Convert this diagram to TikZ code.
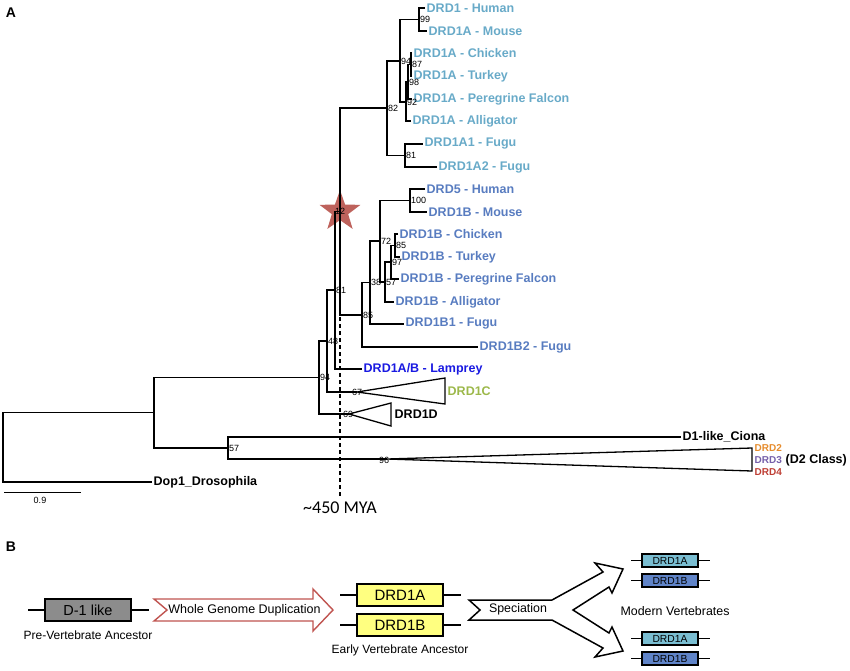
\documentclass[tikz,border=0pt]{standalone}
\usepackage{fontspec}
\setmainfont{Liberation Sans}
\newfontfamily\myafont{Carlito}
\usetikzlibrary{shapes.geometric}

\definecolor{dOneA}{RGB}{104,170,200}
\definecolor{dOneB}{RGB}{88,124,192}
\definecolor{lampblue}{RGB}{25,25,225}
\definecolor{dOneC}{RGB}{156,184,74}
\definecolor{dTwo}{RGB}{230,140,45}
\definecolor{dThree}{RGB}{118,96,170}
\definecolor{dFour}{RGB}{190,62,52}
\definecolor{starred}{RGB}{190,98,92}
\definecolor{wgdred}{RGB}{192,84,80}
\definecolor{geneyellow}{RGB}{255,255,128}
\definecolor{genegray}{RGB}{140,140,140}
\definecolor{modA}{RGB}{122,190,210}
\definecolor{modB}{RGB}{96,132,200}

\tikzset{
  branch/.style={line width=1.3pt},
  leaf/.style={anchor=west, inner sep=1.5pt, font=\fontsize{12.5}{12.5}\selectfont\bfseries},
  boot/.style={anchor=west, inner sep=1pt, font=\fontsize{9}{9}\selectfont},
  panel/.style={font=\fontsize{14}{14}\selectfont\bfseries},
  genebox/.style={draw, line width=1.2pt, inner sep=0pt, minimum width=86pt, minimum height=22pt, font=\fontsize{15}{15}\selectfont},
  smallgene/.style={draw, line width=1.2pt, inner sep=0pt, minimum width=56pt, minimum height=13pt, font=\fontsize{10.3}{10.3}\selectfont},
  stub/.style={line width=1.1pt},
  caption/.style={font=\fontsize{12}{12}\selectfont},
}

\begin{document}
\begin{tikzpicture}[x=1pt,y=-1pt]
\useasboundingbox (0,0) rectangle (850,670);

% ---- panel A: tree ----
\node[panel] (pA) at (11,13) {A};

\coordinate (c12) at (340,211.5);
\node[star, star points=5, star point ratio=2.5, minimum size=43pt,
      inner sep=0pt, fill=starred] (star12) at (c12) {};

% D1A clade
\node[leaf, text=dOneA] (humA) at (425,8) {DRD1 - Human};
\node[leaf, text=dOneA] (mouA) at (427,31) {DRD1A - Mouse};
\node[leaf, text=dOneA] (chiA) at (412,53) {DRD1A - Chicken};
\node[leaf, text=dOneA] (turA) at (412,76) {DRD1A - Turkey};
\node[leaf, text=dOneA] (falA) at (412,99) {DRD1A - Peregrine Falcon};
\node[leaf, text=dOneA] (allA) at (411,121) {DRD1A - Alligator};
\node[leaf, text=dOneA] (fugA1) at (423,144) {DRD1A1 - Fugu};
\node[leaf, text=dOneA] (fugA2) at (437,167) {DRD1A2 - Fugu};

\coordinate (c99) at (419,19.5);
\coordinate (c87) at (411,64.5);
\coordinate (c98) at (408,82);
\coordinate (c92) at (406,102);
\coordinate (c94) at (400,61);
\coordinate (c81) at (405,155.5);
\coordinate (c82) at (387,108);

\draw[branch] (c99) |- (humA.west);
\draw[branch] (c99) |- (mouA.west);
\draw[branch] (c87) |- (chiA.west);
\draw[branch] (c87) |- (turA.west);
\draw[branch] (c98) |- (c87);
\draw[branch] (c98) |- (falA.west);
\draw[branch] (c92) |- (c98);
\draw[branch] (c92) |- (allA.west);
\draw[branch] (c94) |- (c99);
\draw[branch] (c94) |- (c92);
\draw[branch] (c81) |- (fugA1.west);
\draw[branch] (c81) |- (fugA2.west);
\draw[branch] (c82) |- (c94);
\draw[branch] (c82) |- (c81);

% D1B clade
\node[leaf, text=dOneB] (humB) at (425,189) {DRD5 - Human};
\node[leaf, text=dOneB] (mouB) at (427,212) {DRD1B - Mouse};
\node[leaf, text=dOneB] (chiB) at (398,234) {DRD1B - Chicken};
\node[leaf, text=dOneB] (turB) at (400,257) {DRD1B - Turkey};
\node[leaf, text=dOneB] (falB) at (399,279) {DRD1B - Peregrine Falcon};
\node[leaf, text=dOneB] (allB) at (394,302) {DRD1B - Alligator};
\node[leaf, text=dOneB] (fugB1) at (404,324) {DRD1B1 - Fugu};
\node[leaf, text=dOneB] (fugB2) at (478,347) {DRD1B2 - Fugu};

\coordinate (c100) at (410,200.5);
\coordinate (c85b) at (395,245.5);
\coordinate (c97) at (391,262);
\coordinate (c57) at (385,282);
\coordinate (c72) at (380,241);
\coordinate (c38) at (370,282.5);
\coordinate (c85) at (362,315);

\draw[branch] (c100) |- (humB.west);
\draw[branch] (c100) |- (mouB.west);
\draw[branch] (c85b) |- (chiB.west);
\draw[branch] (c85b) |- (turB.west);
\draw[branch] (c97) |- (c85b);
\draw[branch] (c97) |- (falB.west);
\draw[branch] (c57) |- (c97);
\draw[branch] (c57) |- (allB.west);
\draw[branch] (c72) |- (c100);
\draw[branch] (c72) |- (c57);
\draw[branch] (c38) |- (c72);
\draw[branch] (c38) |- (fugB1.west);
\draw[branch] (c85) |- (c38);
\draw[branch] (c85) |- (fugB2.west);

% deeper nodes
\node[leaf, text=lampblue] (lamp) at (362,369) {DRD1A/B - Lamprey};
\coordinate (c81b) at (335,290);
\coordinate (c48) at (327,341);
\coordinate (c94r) at (319,377.5);
\coordinate (t1C) at (357,392);
\coordinate (t1D) at (349,414);
\coordinate (croot2) at (154,412.5);
\coordinate (c57c) at (228,448);
\coordinate (t2) at (387,459);
\coordinate (root) at (3,447.5);
\node[leaf] (ciona) at (681,437) {D1-like\_Ciona};
\node[leaf] (dros) at (152,482) {Dop1\_Drosophila};

\draw[branch] (c12) |- (c82);
\draw[branch] (c12) |- (c85);
\draw[branch] (c81b) |- (c12);
\draw[branch] (c81b) |- (lamp.west);
\draw[branch] (c48) |- (c81b);
\draw[branch] (c48) |- (t1C);
\draw[branch] (c94r) |- (c48);
\draw[branch] (c94r) |- (t1D);
\draw[branch] (croot2) |- (c94r);
\draw[branch] (croot2) |- (c57c);
\draw[branch] (c57c) |- (ciona.west);
\draw[branch] (c57c) |- (t2);
\draw[branch] (root) |- (croot2);
\draw[branch] (root) |- (dros.west);

% collapsed clades
\draw[branch] (t1C) -- (445,378) -- (445,404) -- cycle;
\draw[branch] (t1D) -- (391,403) -- (391,426) -- cycle;
\draw[branch] (t2) -- (752,448) -- (752,471) -- cycle;
\node[leaf, text=dOneC] (d1C) at (446,391) {DRD1C};
\node[leaf] (d1D) at (393,414) {DRD1D};
\node[leaf, font=\fontsize{10}{10}\selectfont\bfseries, text=dTwo] (d2) at (753,448) {DRD2};
\node[leaf, font=\fontsize{10}{10}\selectfont\bfseries, text=dThree] (d3) at (753,460) {DRD3};
\node[leaf, font=\fontsize{10}{10}\selectfont\bfseries, text=dFour] (d4) at (753,472) {DRD4};
\node[leaf] (d2class) at (784,460) {(D2 Class)};

% bootstrap values
\node[boot] (b99) at (c99) {99};
\node[boot] (b87) at (c87) {87};
\node[boot] (b98) at (c98) {98};
\node[boot] (b92) at (c92) {92};
\node[boot] (b94) at (c94) {94};
\node[boot] (b81) at (c81) {81};
\node[boot] (b82) at (c82) {82};
\node[boot] (b100) at (c100) {100};
\node[boot] (b85b) at (c85b) {85};
\node[boot] (b97) at (c97) {97};
\node[boot] (b57) at (c57) {57};
\node[boot] (b72) at (c72) {72};
\node[boot] (b38) at (c38) {38};
\node[boot] (b85) at (c85) {85};
\node[boot, anchor=center] (b12) at (c12) {12};
\node[boot] (b81b) at (c81b) {81};
\node[boot] (b48) at (c48) {48};
\node[boot] (b94r) at (c94r) {94};
\node[boot] (b67) at (351,392) {67};
\node[boot] (b69) at (342,414) {69};
\node[boot] (b57c) at (c57c) {57};
\node[boot] (b96) at (378,460) {96};

% time marker and scale
\node[font=\fontsize{18}{18}\myafont] (mya) at (340,508) {\textasciitilde450 MYA};
\coordinate (mtop) at (340,317);
\draw[line width=1.3pt, dash pattern=on 4pt off 3pt] (mtop) -- (mya.north);
\coordinate (sb1) at (4,492);
\coordinate (sb2) at (81,492);
\draw[line width=1pt] (sb1) -- (sb2);
\node[font=\fontsize{9}{9}\selectfont] (sbl) at (40,500) {0.9};

% ---- panel B: duplication scheme ----
\node[panel] (pB) at (11,547) {B};

\node[genebox, fill=genegray, font=\fontsize{14.5}{14.5}\selectfont] (dlike) at (88,610) {D-1 like};
\draw[stub] (dlike.west) -- ([xshift=-16]dlike.west);
\draw[stub] (dlike.east) -- ([xshift=17]dlike.east);
\node[caption] (preV) at (88,635) {Pre-Vertebrate Ancestor};

\draw[wgdred, line width=1.4pt, fill=white] (154,599) -- (313,599) -- (313,589) -- (333,610)
  -- (313,631) -- (313,621) -- (154,621) -- (167,610) -- cycle;
\node[font=\fontsize{12.5}{12.5}\selectfont] (wgd) at (244.5,610) {Whole Genome Duplication};

\node[genebox, fill=geneyellow] (eA) at (400,595) {DRD1A};
\node[genebox, fill=geneyellow] (eB) at (400,625) {DRD1B};
\draw[stub] (eA.west) -- ([xshift=-16]eA.west);
\draw[stub] (eA.east) -- ([xshift=17]eA.east);
\draw[stub] (eB.west) -- ([xshift=-16]eB.west);
\draw[stub] (eB.east) -- ([xshift=17]eB.east);
\node[caption] (earlyV) at (400,650) {Early Vertebrate Ancestor};

\draw[line width=1.5pt, fill=white] (469,600) -- (552,600) -- (603,572) -- (595,563) -- (623,569)
  -- (612,593) -- (609,587) -- (573,610) -- (609,633) -- (612,627) -- (623,651) -- (595,657)
  -- (603,648) -- (552,620) -- (469,620) -- (480,610) -- cycle;
\node[font=\fontsize{12.4}{12.4}\selectfont] (spec) at (518,609) {Speciation};

\node[smallgene, fill=modA] (mA1) at (670,560.5) {DRD1A};
\node[smallgene, fill=modB] (mB1) at (670,580.5) {DRD1B};
\node[smallgene, fill=modA] (mA2) at (670,638.5) {DRD1A};
\node[smallgene, fill=modB] (mB2) at (670,658.5) {DRD1B};
\foreach \g in {mA1,mB1,mA2,mB2} {
  \draw[stub] (\g.west) -- ([xshift=-10]\g.west);
  \draw[stub] (\g.east) -- ([xshift=11]\g.east);
}
\node[font=\fontsize{12.4}{12.4}\selectfont] (modV) at (675,611) {Modern Vertebrates};

\end{tikzpicture}
\end{document}
